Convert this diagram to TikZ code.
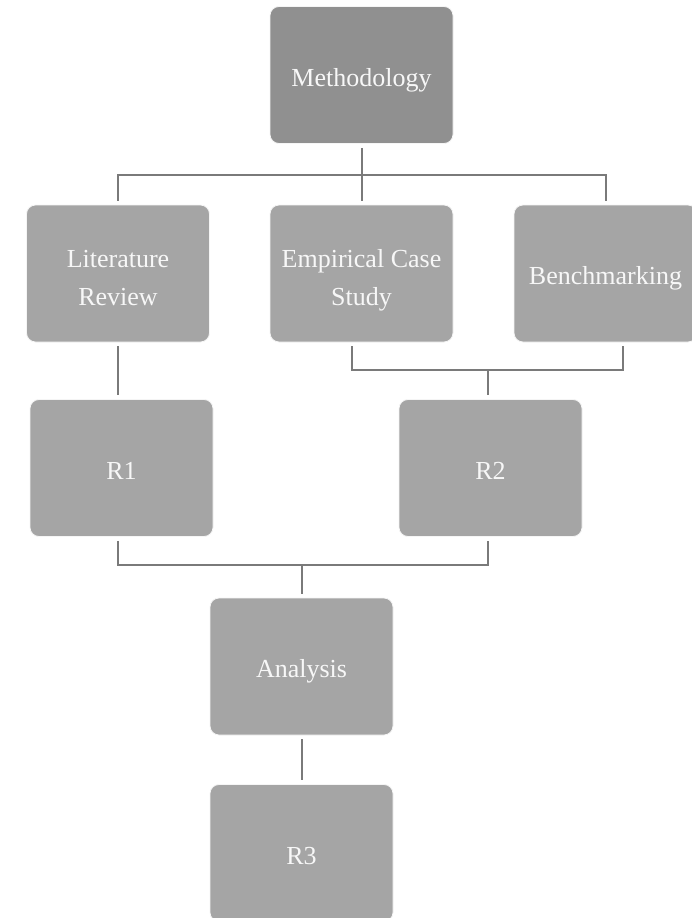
\documentclass[tikz,border=0pt]{standalone}
\usepackage{fontspec}
\setmainfont{Liberation Serif}
\usetikzlibrary{calc}
\definecolor{boxgray}{HTML}{A5A5A5}
\definecolor{topgray}{HTML}{909090}
\definecolor{linegray}{HTML}{7A7A7A}
\definecolor{txt}{HTML}{F7F7F7}
\begin{document}
\begin{tikzpicture}[x=1pt,y=-1pt,
  box/.style={rectangle, rounded corners=9pt, fill=boxgray, draw=white!92!gray,
    line width=0.8pt, minimum width=183pt, minimum height=137pt,
    text=txt, align=center, inner sep=2pt,
    font=\fontsize{26}{38}\selectfont,
    text height=28pt, text depth=5.6pt},
  twoline/.style={text height=70.2pt, text depth=5.6pt},
  topbox/.style={box, fill=topgray},
  conn/.style={draw=linegray, line width=2pt, shorten <=4pt, shorten >=4pt},
  stem/.style={draw=linegray, line width=2pt, shorten >=4pt}]
\useasboundingbox (0,0) rectangle (692,918);
\clip (0,0) rectangle (692,918);

% boxes
\node[topbox]      (meth)  at (361.5,75)    {Methodology};
\node[box,twoline] (lit)   at (118,273.5)   {Literature\\Review};
\node[box,twoline] (emp)   at (361.5,273.5) {Empirical Case\\Study};
\node[box]         (bench) at (605.5,273.5) {Benchmarking};
\node[box]         (r1)    at (121.5,468)   {R1};
\node[box]         (r2)    at (490.5,468)   {R2};
\node[box]         (ana)   at (301.5,666.5) {Analysis};
\node[box]         (r3)    at (301.5,853)   {R3};

% junction points on the horizontal bars
\coordinate (b1) at (361.5,175);
\coordinate (b2) at (488,370);
\coordinate (b3) at (302,565);

% Methodology splits into the three approaches
\draw[conn] (meth.south) -- (emp.north);
\draw[conn] (lit.north) |- (b1) -| (bench.north);

% Literature review leads to R1
\draw[conn] (lit.south) -- (lit.south |- r1.north);

% case study and benchmarking join into R2
\draw[conn] ([xshift=-9.5pt]emp.south) |- (b2) -| ([xshift=17.5pt]bench.south);
\draw[stem] (b2) -- (b2 |- r2.north);

% R1 and R2 feed the analysis
\draw[conn] ([xshift=-3.5pt]r1.south) |- (b3) -| (b2 |- r2.south);
\draw[stem] (b3) -- (b3 |- ana.north);

% analysis gives R3
\draw[conn] (ana.south) -- (r3.north);
\end{tikzpicture}
\end{document}
